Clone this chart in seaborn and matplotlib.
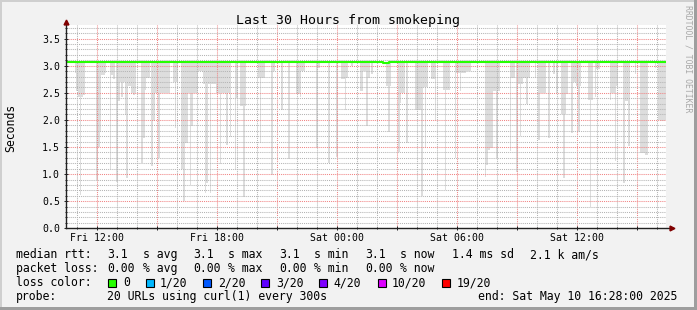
import numpy as np
import pandas as pd
import matplotlib
matplotlib.use("Agg")
import matplotlib.pyplot as plt
import matplotlib.dates as mdates
from matplotlib.ticker import MultipleLocator, FuncFormatter
from matplotlib.patches import Rectangle
import seaborn as sns

# ---------------- data ----------------
start = pd.Timestamp("2025-05-09 10:28")
end = pd.Timestamp("2025-05-10 16:28")
step_minutes = 5

median_times = ["2025-05-09 10:28", "2025-05-10 02:18", "2025-05-10 02:36", "2025-05-10 16:28"]
median_values = [3.07, 3.055, 3.07, 3.07]

smoke_top = 3.06
smoke_step = [5, 6, 7, 8, 9, 10, 18, 19, 20, 21, 22, 23, 26, 27, 28, 30, 31, 32, 33, 34,
              35, 36, 37, 38, 39, 40, 41, 45, 46, 47, 48, 49, 51, 52, 53, 54, 55, 56, 57, 58,
              59, 60, 61, 64, 65, 66, 69, 70, 71, 72, 73, 74, 75, 76, 77, 78, 79, 80, 81, 82,
              83, 84, 85, 86, 87, 88, 89, 90, 91, 92, 93, 94, 95, 96, 97, 98, 101, 102, 104, 105,
              106, 107, 115, 116, 117, 118, 123, 124, 129, 133, 138, 139, 140, 141, 142, 150, 151, 157, 162, 165,
              166, 167, 168, 171, 176, 177, 178, 179, 180, 181, 183, 192, 193, 194, 199, 200, 201, 202, 204, 209,
              210, 211, 212, 213, 214, 215, 216, 219, 220, 221, 226, 227, 228, 229, 233, 234, 235, 236, 237, 238,
              239, 240, 241, 242, 251, 252, 253, 254, 255, 256, 257, 258, 259, 266, 267, 268, 270, 271, 272, 273,
              274, 275, 276, 277, 281, 283, 284, 285, 286, 287, 289, 292, 294, 297, 298, 299, 300, 303, 304, 305,
              306, 307, 308, 313, 314, 315, 317, 318, 319, 326, 327, 328, 329, 330, 334, 335, 336, 337, 341, 344,
              345, 346, 347, 348, 353, 355, 356, 357, 358, 359]
smoke_low = [2.87, 2.53, 2.42, 0.62, 2.42, 2.45, 0.90, 1.50, 1.78, 2.82, 2.82, 2.87, 1.09, 2.82, 2.75, 0.86, 2.35, 2.69, 2.43, 2.69,
             2.09, 0.93, 2.62, 2.62, 2.50, 2.45, 2.50, 1.20, 1.66, 2.55, 2.78, 2.78, 1.14, 1.98, 2.50, 2.50, 1.29, 2.50, 2.50, 2.50,
             2.50, 2.50, 2.50, 2.69, 1.85, 2.69, 1.10, 0.50, 1.58, 1.57, 2.50, 0.80, 1.88, 2.50, 2.50, 2.50, 2.90, 2.90, 2.90, 2.66,
             0.66, 0.83, 2.66, 0.65, 2.66, 2.66, 2.66, 2.50, 2.50, 1.18, 2.50, 2.50, 2.50, 1.54, 2.50, 1.69, 1.08, 2.41, 2.26, 2.26,
             0.57, 2.26, 2.78, 1.57, 2.78, 2.78, 0.98, 2.90, 2.18, 1.27, 2.47, 2.47, 2.42, 2.90, 2.90, 1.48, 2.96, 1.20, 1.32, 2.75,
             2.75, 2.18, 2.78, 3.00, 2.53, 2.53, 2.90, 2.90, 1.88, 2.78, 2.85, 2.62, 1.78, 2.62, 1.41, 2.32, 2.50, 2.50, 1.58, 2.19,
             2.19, 2.19, 2.19, 0.60, 2.60, 1.48, 2.60, 2.75, 2.75, 1.98, 2.55, 0.71, 2.55, 2.55, 1.29, 2.87, 2.87, 2.53, 2.87, 2.87,
             2.87, 2.91, 2.91, 2.91, 0.95, 1.17, 1.45, 1.48, 1.48, 2.53, 2.53, 1.30, 2.53, 1.43, 2.78, 2.78, 1.04, 2.66, 1.70, 2.66,
             2.78, 2.78, 2.29, 2.78, 2.78, 1.63, 2.50, 2.50, 2.50, 2.50, 1.66, 2.85, 2.50, 2.10, 0.93, 2.10, 2.47, 1.75, 2.69, 2.69,
             2.62, 1.78, 2.62, 2.36, 0.40, 2.36, 2.42, 2.93, 2.93, 2.36, 2.50, 2.50, 1.25, 2.62, 0.84, 2.35, 2.35, 1.51, 2.84, 1.39,
             1.39, 1.38, 1.36, 1.35, 2.96, 2.00, 1.98, 1.98, 1.98, 2.00]

y_max = 3.75

legend_rows = [
    [("median rtt:", 16), ("3.1", 107.3), ("s avg", 143), ("3.1", 193.3), ("s max", 228.5),
     ("3.1", 279.3), ("s min", 314.5), ("3.1", 365.3), ("s now", 400.5), ("1.4 ms sd", 452.0),
     ("2.1 k am/s", 530.5)],
    [("packet loss:", 16), ("0.00", 107.3), ("% avg", 143), ("0.00", 193.3), ("% max", 228.5),
     ("0.00", 279.3), ("% min", 314.5), ("0.00", 365.3), ("% now", 400.5)],
    [("loss color:", 16)],
    [("probe:", 16), ("20 URLs using curl(1) every 300s", 107.3), ("end: Sat May 10 16:28:00 2025", 478.3)],
]
row_baselines = [258.3, 272.0, 286.0, 300.0]

loss_labels = ["0", "1/20", "2/20", "3/20", "4/20", "10/20", "19/20"]
loss_colors = ["#26ff00", "#00b8ff", "#0059ff", "#5e00ff", "#7e00ff", "#dd00ff", "#ff0000"]
loss_box_x = [108.3, 145.7, 203.3, 261.0, 319.3, 378.3, 442.3]
loss_text_x = [123.3, 160.0, 218.3, 276.0, 333.3, 391.7, 456.7]

# ---------------- figure ----------------
W, H = 697, 310
MONO = "DejaVu Sans Mono"
plt.rcParams["font.family"] = MONO

fig = plt.figure(figsize=(W / 100, H / 100), dpi=100, facecolor="#F2F2F2")
ax = fig.add_axes([66.4 / W, 1 - 228.3 / H, 600 / W, 203.3 / H])
ax.set_facecolor("white")

# smoke
t0 = mdates.date2num(start)
step_days = step_minutes / 1440.0
sx = t0 + np.array(smoke_step) * step_days
slo = np.array(smoke_low)
ax.bar(sx, smoke_top - slo, bottom=slo, width=step_days, align="edge",
       color="#DDDDDD", linewidth=0, zorder=1)

# median line
med_df = pd.DataFrame({"time": pd.to_datetime(median_times), "median": median_values})
sns.lineplot(data=med_df, x="time", y="median", ax=ax, color="#26ff00",
             linewidth=1.5, drawstyle="steps-post", zorder=3)

ax.set_xlim(start, end)
ax.set_ylim(0, y_max)
ax.set_xlabel("")
ax.set_ylabel("")

# grid
ax.xaxis.set_major_locator(mdates.HourLocator(byhour=range(0, 24, 3)))
ax.xaxis.set_minor_locator(mdates.HourLocator())
ax.xaxis.set_major_formatter(FuncFormatter(
    lambda v, p: mdates.num2date(v).strftime("%a %H:%M") if mdates.num2date(v).hour % 6 == 0 else ""))
ax.yaxis.set_major_locator(MultipleLocator(0.5))
ax.yaxis.set_minor_locator(MultipleLocator(0.1))
ax.yaxis.set_major_formatter(FuncFormatter(lambda v, p: f"{v:.1f}"))

ax.grid(which="minor", color="#B4B4B4", linewidth=0.75, linestyle=(0, (1, 1)), zorder=4)
ax.grid(which="major", color="#F08484", linewidth=0.75, linestyle=(0, (1, 1)), zorder=5)
ax.set_axisbelow(False)

for s in ax.spines.values():
    s.set_visible(False)

ax.tick_params(which="both", direction="inout", color="#212121", width=0.7, labelsize=7.1,
               labelcolor="black")
ax.tick_params(which="major", length=3)
ax.tick_params(which="minor", length=2)
ax.tick_params(axis="x", pad=2.2)
ax.tick_params(axis="y", pad=3.0)

# axis lines with arrows
ax.plot([0, 1.008], [0, 0], transform=ax.transAxes, color="#212121", lw=1.0, clip_on=False, zorder=6)
ax.plot([0, 0], [0, 1.012], transform=ax.transAxes, color="#212121", lw=1.0, clip_on=False, zorder=6)
ax.plot([1.010], [0], marker=">", ms=3.5, color="#800000", transform=ax.transAxes, clip_on=False, zorder=7)
ax.plot([0], [1.015], marker="^", ms=3.5, color="#800000", transform=ax.transAxes, clip_on=False, zorder=7)

# texts
fig.text(347.7 / W, 1 - 24 / H, "Last 30 Hours from smokeping", fontsize=9.5, ha="center",
         va="baseline", family=MONO)
fig.text(11 / W, 1 - 127.5 / H, "Seconds", fontsize=8.3, rotation=90, ha="center", va="center", family=MONO)
fig.text(688.3 / W, 1 - 59 / H, "RRDTOOL / TOBI OETIKER", fontsize=5.9, rotation=270,
         ha="center", va="center", color="#A8A8A8", family=MONO)

for row, yb in zip(legend_rows, row_baselines):
    for txt, x in row:
        fig.text(x / W, 1 - yb / H, txt, fontsize=8.3, ha="left", va="baseline", family=MONO)

for lab, col, bx, tx in zip(loss_labels, loss_colors, loss_box_x, loss_text_x):
    fig.add_artist(Rectangle((bx / W, 1 - 286.5 / H), 8 / W, 8 / H, transform=fig.transFigure,
                             facecolor=col, edgecolor="black", linewidth=0.8))
    fig.text(tx / W, 1 - row_baselines[2] / H, lab, fontsize=8.3, ha="left", va="baseline", family=MONO)

# frame shading
fig.add_artist(Rectangle((0, 1 - 2 / H), 1, 2 / H, transform=fig.transFigure, color="#CFCFCF", lw=0))
fig.add_artist(Rectangle((0, 0), 2 / W, 1, transform=fig.transFigure, color="#CFCFCF", lw=0))
fig.add_artist(Rectangle((0, 0), 1, 3 / H, transform=fig.transFigure, color="#9E9E9E", lw=0))
fig.add_artist(Rectangle((1 - 3 / W, 0), 3 / W, 1, transform=fig.transFigure, color="#9E9E9E", lw=0))

fig.savefig("out.png", dpi=100, facecolor=fig.get_facecolor())
